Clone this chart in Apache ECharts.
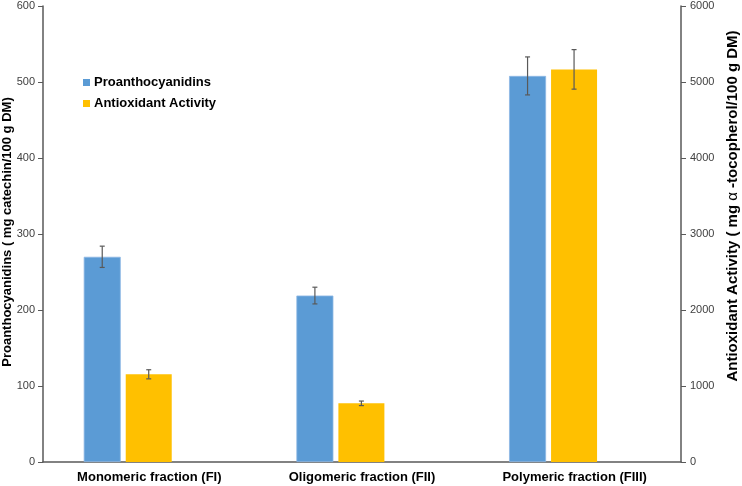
<!DOCTYPE html>
<html>
<head>
<meta charset="utf-8">
<script src="https://cdn.jsdelivr.net/npm/echarts@6/dist/echarts.min.js"></script>
<style>
html,body{margin:0;padding:0;background:#fff;}
#chart{width:742px;height:486px;}
</style>
</head>
<body>
<div id="chart"></div>
<script>
const categories = ['Monomeric fraction (FI)', 'Oligomeric fraction (FII)', 'Polymeric fraction (FIII)'];
const proValues = [270, 219, 508];
const proErrors = [14, 11, 25];
const antiValues = [1154, 772, 5166];
const antiErrors = [60, 30, 260];
const spacerValues = [null, null, null];

const blueW = 37, yellowW = 46, gapPct = 0.135;
const total = blueW * (1 + gapPct) + yellowW * (1 + gapPct) + blueW;
const blueOffset = -total / 2 + blueW / 2;
const yellowOffset = -total / 2 + blueW * (1 + gapPct) + yellowW / 2;

function errorRender(offset) {
  return function (params, api) {
    const i = api.value(0), v = api.value(1), e = api.value(2);
    const hi = api.coord([i, v + e]);
    const lo = api.coord([i, v - e]);
    const x = hi[0] + offset;
    const w = 2.5;
    const st = { stroke: '#595959', lineWidth: 1.2 };
    return {
      type: 'group',
      children: [
        { type: 'line', shape: { x1: x, y1: hi[1], x2: x, y2: lo[1] }, style: st },
        { type: 'line', shape: { x1: x - w, y1: hi[1], x2: x + w, y2: hi[1] }, style: st },
        { type: 'line', shape: { x1: x - w, y1: lo[1], x2: x + w, y2: lo[1] }, style: st }
      ]
    };
  };
}

const chart = echarts.init(document.getElementById('chart'), null, { renderer: 'canvas' });
const axisCol = '#595959';
const font = 'Arial, "Liberation Sans", sans-serif';

chart.setOption({
  animation: false,
  backgroundColor: '#ffffff',
  textStyle: { fontFamily: font },
  grid: { left: 43, right: 61, top: 6, bottom: 24, containLabel: false },
  legend: {
    data: ['Proanthocyanidins', 'Antioxidant Activity'],
    orient: 'vertical',
    left: 78,
    top: 71,
    itemWidth: 7,
    itemHeight: 7,
    itemGap: 8,
    icon: 'rect',
    itemStyle: { borderWidth: 0 },
    textStyle: { fontSize: 13, fontWeight: 'bold', color: '#000', fontFamily: font, padding: [0, 0, 0, -1] }
  },
  xAxis: {
    type: 'category',
    data: categories,
    axisLine: { show: true, lineStyle: { color: axisCol, width: 1.5 } },
    axisTick: { show: false },
    axisLabel: { fontSize: 13, fontWeight: 'bold', color: '#000', margin: 9, fontFamily: font }
  },
  yAxis: [
    {
      type: 'value', min: 0, max: 600, interval: 100, position: 'left',
      splitLine: { show: false },
      axisLine: { show: true, lineStyle: { color: axisCol, width: 1.5 } },
      axisTick: { show: true, inside: false, length: 5, lineStyle: { color: axisCol } },
      axisLabel: { fontSize: 11, color: '#404040', margin: 8, fontFamily: font, formatter: v => String(v) }
    },
    {
      type: 'value', min: 0, max: 6000, interval: 1000, position: 'right',
      splitLine: { show: false },
      axisLine: { show: true, lineStyle: { color: axisCol, width: 1.5 } },
      axisTick: { show: true, inside: false, length: 5, lineStyle: { color: axisCol } },
      axisLabel: { fontSize: 11, color: '#404040', margin: 9, fontFamily: font, formatter: v => String(v) }
    }
  ],
  graphic: [
    {
      type: 'text', x: 7, y: 232, rotation: Math.PI / 2,
      style: {
        text: 'Proanthocyanidins ( mg catechin/100 g DM)',
        fontSize: 13, fontWeight: 'bold', fontFamily: font, fill: '#000',
        align: 'center', verticalAlign: 'middle'
      }
    },
    {
      type: 'text', x: 733, y: 206, rotation: Math.PI / 2,
      style: {
        text: 'Antioxidant Activity ( mg {a|α} -tocopherol/100 g DM)',
        fontSize: 15, fontWeight: 'bold', fontFamily: font, fill: '#000',
        align: 'center', verticalAlign: 'middle',
        rich: { a: { fontSize: 15, fontWeight: 'normal', fontFamily: font, fill: '#000' } }
      }
    }
  ],
  series: [
    {
      name: 'Proanthocyanidins', type: 'bar', yAxisIndex: 0,
      data: proValues, barWidth: blueW, barGap: (gapPct * 100) + '%',
      itemStyle: { color: '#5B9BD5', borderColor: '#8DB8E4', borderWidth: 0.8 }
    },
    {
      name: 'Antioxidant Activity', type: 'bar', yAxisIndex: 1,
      data: antiValues, barWidth: yellowW, barGap: (gapPct * 100) + '%',
      itemStyle: { color: '#FFC000' }
    },
    {
      name: 'spacer', type: 'bar', yAxisIndex: 0,
      data: spacerValues, barWidth: blueW, barGap: (gapPct * 100) + '%',
      itemStyle: { color: 'transparent' }, silent: true
    },
    {
      name: 'proErr', type: 'custom', yAxisIndex: 0,
      renderItem: errorRender(blueOffset),
      data: categories.map((c, i) => [i, proValues[i], proErrors[i]]),
      encode: { x: 0, y: 1 }, z: 10, silent: true
    },
    {
      name: 'antiErr', type: 'custom', yAxisIndex: 1,
      renderItem: errorRender(yellowOffset),
      data: categories.map((c, i) => [i, antiValues[i], antiErrors[i]]),
      encode: { x: 0, y: 1 }, z: 10, silent: true
    }
  ]
});
</script>
</body>
</html>
